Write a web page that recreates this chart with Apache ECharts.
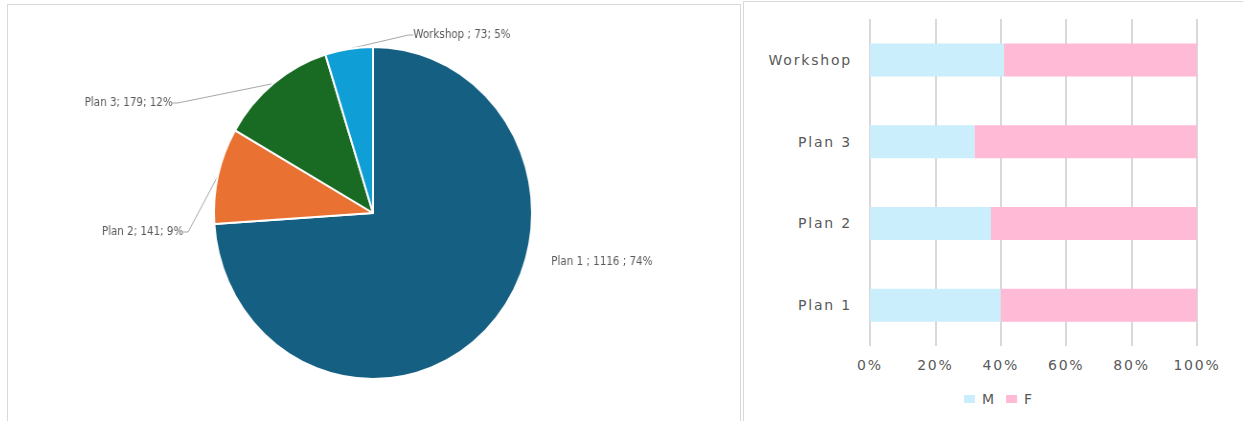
<!DOCTYPE html>
<html><head><meta charset="utf-8">
<script src="https://cdn.jsdelivr.net/npm/echarts@6/dist/echarts.min.js"></script>
<style>
html,body{margin:0;padding:0;background:#fff;overflow:hidden;width:1243px;height:421px;}
#panelL{position:absolute;left:7px;top:4px;width:734px;height:440px;border:1px solid #d9d9d9;box-sizing:border-box;}
#panelR{position:absolute;left:743px;top:1px;width:520px;height:440px;border:1px solid #d9d9d9;box-sizing:border-box;}
#pie{position:absolute;left:0;top:0;width:742px;height:421px;transform:scaleX(0.958);transform-origin:373px 0;}
#bar{position:absolute;left:742px;top:0;width:501px;height:421px;}
#bar text{letter-spacing:1.8px;}
</style></head>
<body>
<div id="panelL"></div>
<div id="panelR"></div>
<div id="pie"></div>
<div id="bar"></div>
<script>
// ---- Pie data ----
const pieCategories = ['Plan 1', 'Plan 2', 'Plan 3', 'Workshop'];
const pieValues = [1116, 141, 179, 73];
const pieLabelText = ['Plan 1 ; 1116 ; 74%', 'Plan 2; 141; 9%', 'Plan 3; 179; 12%', 'Workshop ; 73; 5%'];
const pieColors = ['#156082', '#E97132', '#196B24', '#0F9ED5'];

// ---- Bar data ----
const barCategories = ['Plan 1', 'Plan 2', 'Plan 3', 'Workshop'];
const maleShare = [40, 37, 32, 41];
const femaleShare = [60, 63, 68, 59];
const legendNames = ['M', 'F'];

// label placement (layout, in pie-chart coordinates)
const labelPlace = [
  {x: 559, y: 262, align: 'left'},
  {x: 175, y: 232, align: 'right'},
  {x: 164, y: 103, align: 'right'},
  {x: 415, y: 35, align: 'left'}
];

const pie = echarts.init(document.getElementById('pie'));
pie.setOption({
  animation: false,
  series: [{
    type: 'pie',
    center: [373, 213],
    radius: 166,
    startAngle: 90,
    clockwise: true,
    itemStyle: {borderColor: '#fff', borderWidth: 2},
    label: {
      color: '#595959',
      fontFamily: "'DejaVu Sans Condensed','Liberation Sans Narrow',sans-serif",
      fontSize: 12,
      formatter: p => pieLabelText[p.dataIndex]
    },
    labelLine: {show: true, length: 10, length2: 5, lineStyle: {color: '#a6a6a6', width: 1}},
    labelLayout: function (params) {
      const p = labelPlace[params.dataIndex];
      return {x: p.x, y: p.y, align: p.align, verticalAlign: 'middle'};
    },
    data: pieCategories.map((c, i) => ({
      name: c, value: pieValues[i],
      itemStyle: {color: pieColors[i]},
      labelLine: {show: i !== 0}
    }))
  }]
});

const bar = echarts.init(document.getElementById('bar'), null, {renderer: 'svg'});
const txt = {color: '#595959', fontFamily: "'DejaVu Sans',sans-serif", fontSize: 14};
bar.setOption({
  animation: false,
  grid: {left: 128, right: 46, top: 19, bottom: 75, containLabel: false},
  legend: {
    data: legendNames, left: 217, top: 387, itemWidth: 11, itemHeight: 8, itemGap: 12,
    icon: 'rect', textStyle: Object.assign({}, txt, {padding: [0, 0, 0, 2]})
  },
  xAxis: {
    type: 'value', min: 0, max: 100, interval: 20,
    axisLine: {show: false}, axisTick: {show: false},
    splitLine: {show: true, lineStyle: {color: '#d9d9d9', width: 2}},
    axisLabel: Object.assign({}, txt, {formatter: '{value}%', margin: 12})
  },
  yAxis: {
    type: 'category', data: barCategories,
    axisLine: {show: false}, axisTick: {show: false},
    axisLabel: Object.assign({}, txt, {margin: 18})
  },
  series: [
    {name: 'M', type: 'bar', stack: 'a', barWidth: 33, data: maleShare, itemStyle: {color: '#caeefb'}},
    {name: 'F', type: 'bar', stack: 'a', barWidth: 33, data: femaleShare, itemStyle: {color: '#ffbad6'}}
  ]
});
</script>
</body></html>
